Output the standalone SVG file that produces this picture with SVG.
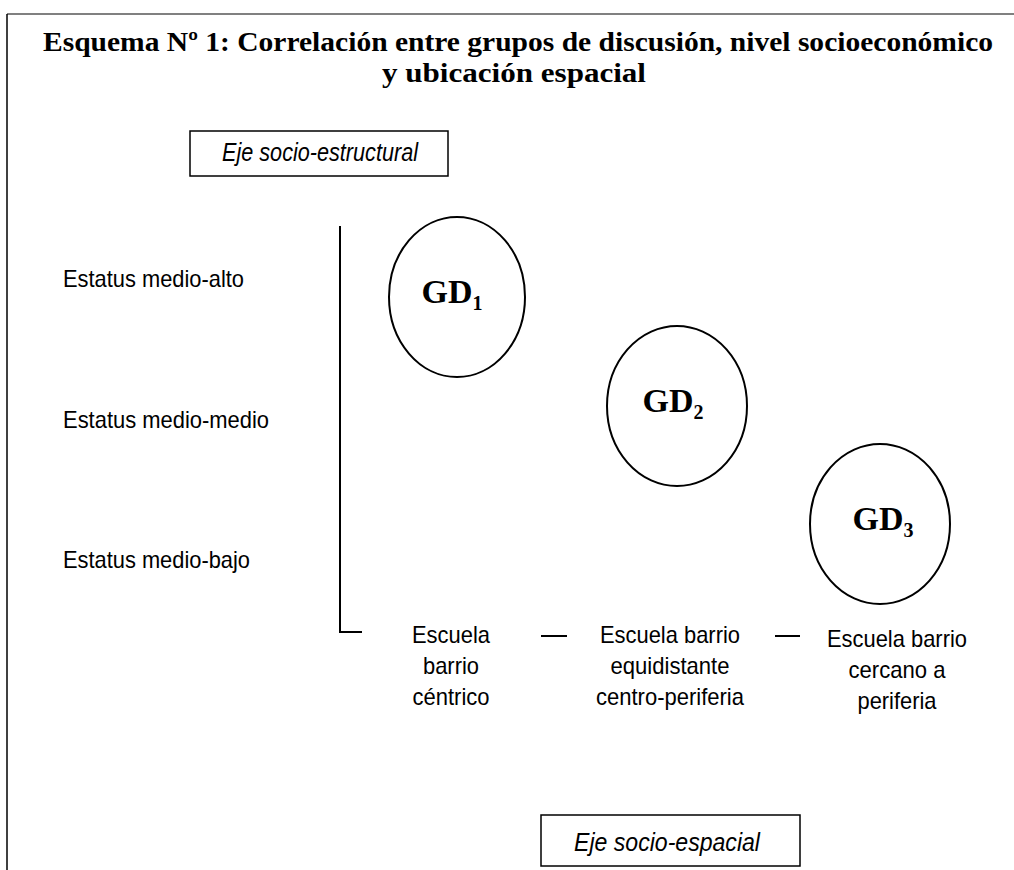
<svg xmlns="http://www.w3.org/2000/svg" width="1014" height="870" viewBox="0 0 1014 870">
<style>
.title{font-family:"Liberation Serif","Times New Roman",serif;font-weight:bold;font-size:28px;fill:#000}
.lbl{font-family:"Liberation Sans",Arial,sans-serif;font-size:24px;fill:#000}
.ital{font-family:"Liberation Sans",Arial,sans-serif;font-size:25px;font-style:italic;fill:#000}
.gd{font-family:"Liberation Serif","Times New Roman",serif;font-weight:bold;font-size:34px;fill:#000}
.sub{font-size:20px}
.node{fill:#fff;stroke:#000;stroke-width:2}
.box{fill:#fff;stroke:#000;stroke-width:1.5}
.ax{stroke:#000;stroke-width:2;fill:none}
</style>
<rect x="0" y="0" width="1014" height="870" fill="#fff"/>
<g id="frame">
<line x1="7" y1="14" x2="1014" y2="14" stroke="#808080" stroke-width="2"/>
<line x1="7" y1="14" x2="7" y2="870" stroke="#000" stroke-width="1.5"/>
</g>
<g id="title">
<text class="title" x="518" y="51" text-anchor="middle" textLength="950" lengthAdjust="spacingAndGlyphs">Esquema Nº 1: Correlación entre grupos de discusión, nivel socioeconómico</text>
<text class="title" x="514" y="82" text-anchor="middle" textLength="264" lengthAdjust="spacingAndGlyphs">y ubicación espacial</text>
</g>
<g id="eje-estructural">
<rect class="box" x="190" y="131" width="258" height="45"/>
<text class="ital" x="320" y="161" text-anchor="middle" textLength="196" lengthAdjust="spacingAndGlyphs">Eje socio-estructural</text>
</g>
<g id="estatus-labels">
<text class="lbl" x="63" y="287" textLength="181" lengthAdjust="spacingAndGlyphs">Estatus medio-alto</text>
<text class="lbl" x="63" y="428" textLength="206" lengthAdjust="spacingAndGlyphs">Estatus medio-medio</text>
<text class="lbl" x="63" y="568" textLength="187" lengthAdjust="spacingAndGlyphs">Estatus medio-bajo</text>
</g>
<g id="connectors">
<path class="ax" d="M340,226 V632 H362"/>
<line class="ax" x1="541" y1="636" x2="567" y2="636"/>
<line class="ax" x1="775" y1="636" x2="800" y2="636"/>
</g>
<g id="gd1">
<ellipse class="node" cx="457" cy="297" rx="68" ry="80"/>
<text class="gd" x="452" y="303" text-anchor="middle">GD<tspan class="sub" dy="7">1</tspan></text>
</g>
<g id="gd2">
<ellipse class="node" cx="677" cy="406" rx="70" ry="80"/>
<text class="gd" x="673" y="412" text-anchor="middle">GD<tspan class="sub" dy="7">2</tspan></text>
</g>
<g id="gd3">
<ellipse class="node" cx="880" cy="524" rx="70" ry="80"/>
<text class="gd" x="883" y="530" text-anchor="middle">GD<tspan class="sub" dy="7">3</tspan></text>
</g>
<g id="escuela-centrico">
<text class="lbl" x="451" y="643" text-anchor="middle" textLength="78" lengthAdjust="spacingAndGlyphs">Escuela</text>
<text class="lbl" x="451" y="674" text-anchor="middle" textLength="56" lengthAdjust="spacingAndGlyphs">barrio</text>
<text class="lbl" x="451" y="705" text-anchor="middle" textLength="77" lengthAdjust="spacingAndGlyphs">céntrico</text>
</g>
<g id="escuela-equidistante">
<text class="lbl" x="670" y="643" text-anchor="middle" textLength="140" lengthAdjust="spacingAndGlyphs">Escuela barrio</text>
<text class="lbl" x="670" y="674" text-anchor="middle" textLength="119" lengthAdjust="spacingAndGlyphs">equidistante</text>
<text class="lbl" x="670" y="705" text-anchor="middle" textLength="148" lengthAdjust="spacingAndGlyphs">centro-periferia</text>
</g>
<g id="escuela-periferia">
<text class="lbl" x="897" y="647" text-anchor="middle" textLength="140" lengthAdjust="spacingAndGlyphs">Escuela barrio</text>
<text class="lbl" x="897" y="678" text-anchor="middle" textLength="97" lengthAdjust="spacingAndGlyphs">cercano a</text>
<text class="lbl" x="897" y="709" text-anchor="middle" textLength="79" lengthAdjust="spacingAndGlyphs">periferia</text>
</g>
<g id="eje-espacial">
<rect class="box" x="541" y="815" width="259" height="51"/>
<text class="ital" x="667" y="851" text-anchor="middle" textLength="186" lengthAdjust="spacingAndGlyphs">Eje socio-espacial</text>
</g>
</svg>
